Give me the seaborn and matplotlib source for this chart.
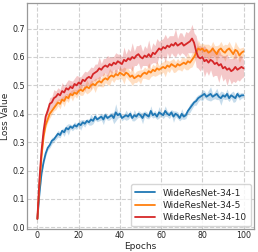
import numpy as np
import pandas as pd
import matplotlib
matplotlib.use("Agg")
import matplotlib.pyplot as plt
import seaborn as sns

# epochs 0..100
epochs = list(range(101))

labels = ["WideResNet-34-1", "WideResNet-34-5", "WideResNet-34-10"]
colors = ["#1f77b4", "#ff7f0e", "#d62728"]

# mean loss per epoch
wrn1 = [0.03, 0.12, 0.19, 0.23, 0.26, 0.28, 0.29, 0.305, 0.31, 0.32,
        0.33, 0.325, 0.34, 0.335, 0.35, 0.345, 0.355, 0.35, 0.36, 0.355,
        0.365, 0.36, 0.37, 0.365, 0.375, 0.37, 0.38, 0.375, 0.39, 0.38,
        0.385, 0.39, 0.38, 0.395, 0.385, 0.39, 0.395, 0.385, 0.405, 0.395,
        0.40, 0.385, 0.39, 0.395, 0.39, 0.40, 0.385, 0.395, 0.39, 0.40,
        0.395, 0.385, 0.40, 0.395, 0.39, 0.41, 0.395, 0.40, 0.39, 0.405,
        0.40, 0.395, 0.41, 0.40, 0.395, 0.405, 0.39, 0.40, 0.395, 0.385,
        0.40, 0.39, 0.395, 0.41, 0.42, 0.43, 0.44, 0.445, 0.455, 0.46,
        0.465, 0.47, 0.46, 0.465, 0.47, 0.46, 0.465, 0.47, 0.46, 0.455,
        0.465, 0.46, 0.47, 0.455, 0.465, 0.46, 0.455, 0.47, 0.46, 0.465,
        0.465]

wrn5 = [0.03, 0.15, 0.25, 0.32, 0.36, 0.38, 0.40, 0.41, 0.42, 0.43,
        0.44, 0.435, 0.45, 0.445, 0.46, 0.455, 0.47, 0.465, 0.475, 0.47,
        0.48, 0.485, 0.48, 0.49, 0.495, 0.49, 0.50, 0.505, 0.50, 0.51,
        0.515, 0.51, 0.52, 0.525, 0.52, 0.53, 0.535, 0.53, 0.54, 0.535,
        0.545, 0.54, 0.535, 0.545, 0.54, 0.53, 0.535, 0.525, 0.53, 0.535,
        0.53, 0.54, 0.545, 0.54, 0.55, 0.545, 0.555, 0.55, 0.56, 0.555,
        0.56, 0.565, 0.56, 0.57, 0.565, 0.575, 0.57, 0.565, 0.575, 0.57,
        0.575, 0.58, 0.575, 0.585, 0.58, 0.59, 0.60, 0.615, 0.63, 0.625,
        0.63, 0.62, 0.625, 0.615, 0.62, 0.63, 0.62, 0.61, 0.625, 0.63,
        0.62, 0.615, 0.625, 0.63, 0.62, 0.61, 0.625, 0.62, 0.605, 0.615,
        0.62]

wrn10 = [0.03, 0.17, 0.27, 0.34, 0.39, 0.41, 0.435, 0.44, 0.455, 0.46,
         0.47, 0.465, 0.48, 0.475, 0.49, 0.485, 0.495, 0.49, 0.505, 0.50,
         0.51, 0.505, 0.52, 0.515, 0.525, 0.53, 0.525, 0.54, 0.545, 0.55,
         0.56, 0.555, 0.565, 0.57, 0.565, 0.575, 0.57, 0.58, 0.575, 0.585,
         0.58, 0.575, 0.59, 0.585, 0.595, 0.59, 0.60, 0.595, 0.605, 0.61,
         0.60, 0.595, 0.605, 0.60, 0.61, 0.60, 0.615, 0.61, 0.62, 0.63,
         0.625, 0.635, 0.63, 0.64, 0.635, 0.645, 0.64, 0.65, 0.64, 0.645,
         0.65, 0.64, 0.645, 0.65, 0.655, 0.665, 0.65, 0.62, 0.60, 0.595,
         0.60, 0.585, 0.59, 0.58, 0.59, 0.585, 0.575, 0.58, 0.57, 0.575,
         0.56, 0.565, 0.555, 0.56, 0.55, 0.555, 0.565, 0.555, 0.56, 0.565,
         0.56]

# half-width of the shaded band around each curve
wrn1_spread = [0.003, 0.01, 0.01, 0.008, 0.01, 0.008, 0.01, 0.012, 0.008, 0.01,
               0.012, 0.01, 0.008, 0.015, 0.01, 0.02, 0.008, 0.01, 0.012, 0.01,
               0.008, 0.018, 0.01, 0.012, 0.008, 0.01, 0.02, 0.01, 0.012, 0.008,
               0.01, 0.012, 0.018, 0.01, 0.008, 0.012, 0.01, 0.02, 0.03, 0.01,
               0.012, 0.01, 0.008, 0.018, 0.01, 0.012, 0.01, 0.02, 0.008, 0.012,
               0.01, 0.02, 0.01, 0.012, 0.008, 0.018, 0.01, 0.012, 0.01, 0.02,
               0.008, 0.012, 0.018, 0.01, 0.012, 0.01, 0.02, 0.01, 0.012, 0.01,
               0.018, 0.01, 0.012, 0.01, 0.015, 0.012, 0.01, 0.015, 0.012, 0.01,
               0.02, 0.012, 0.01, 0.018, 0.025, 0.01, 0.012, 0.02, 0.01, 0.025,
               0.012, 0.01, 0.018, 0.012, 0.01, 0.02, 0.012, 0.01, 0.012, 0.01,
               0.008]

wrn5_spread = [0.003, 0.01, 0.012, 0.01, 0.012, 0.01, 0.015, 0.012, 0.01, 0.015,
               0.012, 0.018, 0.01, 0.02, 0.012, 0.015, 0.01, 0.02, 0.012, 0.015,
               0.012, 0.02, 0.015, 0.012, 0.025, 0.015, 0.018, 0.012, 0.025, 0.015,
               0.018, 0.015, 0.025, 0.015, 0.018, 0.03, 0.015, 0.02, 0.018, 0.015,
               0.02, 0.018, 0.03, 0.015, 0.02, 0.018, 0.035, 0.015, 0.02, 0.018,
               0.025, 0.015, 0.02, 0.018, 0.03, 0.015, 0.02, 0.018, 0.025, 0.015,
               0.02, 0.018, 0.03, 0.018, 0.02, 0.015, 0.025, 0.018, 0.02, 0.015,
               0.025, 0.018, 0.02, 0.03, 0.018, 0.025, 0.02, 0.018, 0.03, 0.02,
               0.018, 0.025, 0.02, 0.03, 0.018, 0.025, 0.02, 0.03, 0.018, 0.025,
               0.02, 0.03, 0.018, 0.025, 0.02, 0.018, 0.03, 0.02, 0.025, 0.018,
               0.015]

wrn10_spread = [0.003, 0.015, 0.02, 0.018, 0.02, 0.018, 0.022, 0.02, 0.03, 0.02,
                0.022, 0.02, 0.03, 0.022, 0.02, 0.035, 0.022, 0.025, 0.02, 0.035,
                0.022, 0.025, 0.02, 0.035, 0.022, 0.025, 0.04, 0.022, 0.03, 0.025,
                0.04, 0.022, 0.03, 0.025, 0.04, 0.025, 0.03, 0.022, 0.04, 0.025,
                0.03, 0.025, 0.045, 0.025, 0.035, 0.03, 0.05, 0.025, 0.035, 0.03,
                0.045, 0.025, 0.035, 0.03, 0.05, 0.025, 0.035, 0.03, 0.045, 0.025,
                0.035, 0.03, 0.05, 0.025, 0.04, 0.03, 0.035, 0.05, 0.025, 0.04,
                0.035, 0.03, 0.045, 0.035, 0.04, 0.05, 0.035, 0.055, 0.04, 0.045,
                0.035, 0.055, 0.04, 0.045, 0.035, 0.055, 0.04, 0.045, 0.06, 0.035,
                0.045, 0.04, 0.055, 0.035, 0.045, 0.04, 0.055, 0.035, 0.045, 0.04,
                0.03]

# three observations per epoch (low, mean, high) so seaborn draws mean + band
frames = []
for name, mean, spread in [(labels[0], wrn1, wrn1_spread),
                           (labels[1], wrn5, wrn5_spread),
                           (labels[2], wrn10, wrn10_spread)]:
    m = np.array(mean)
    s = np.array(spread)
    for vals in (m - s, m, m + s):
        frames.append(pd.DataFrame({"Epochs": epochs, "Loss Value": vals, "model": name}))
df = pd.concat(frames, ignore_index=True)

sns.set_style("whitegrid", {"grid.linestyle": "--", "grid.color": "#d0d0d0",
                            "axes.edgecolor": "#999999"})
plt.rcParams["font.family"] = ["DejaVu Sans"]

fig = plt.figure(figsize=(2.58, 2.52), dpi=100)
ax = fig.add_axes([0.105, 0.091, 0.879, 0.897])

sns.lineplot(data=df, x="Epochs", y="Loss Value", hue="model", hue_order=labels,
             palette=colors, estimator="mean", errorbar=("pi", 100),
             err_kws={"alpha": 0.25, "linewidth": 0}, linewidth=1.3, ax=ax)

ax.set_xlim(-5, 105)
ax.set_ylim(-0.006, 0.79)
ax.set_xticks([0, 20, 40, 60, 80, 100])
ax.set_yticks([0.0, 0.1, 0.2, 0.3, 0.4, 0.5, 0.6, 0.7])
ax.tick_params(labelsize=5.7, pad=1.5, length=0, labelcolor="#222222")
ax.set_xlabel("Epochs", fontsize=6.5, labelpad=1)
ax.set_ylabel("Loss Value", fontsize=6.5, labelpad=2)
for sp in ax.spines.values():
    sp.set_linewidth(0.9)

leg = ax.legend(loc="lower right", fontsize=6.5, frameon=True, handlelength=2.2,
                borderpad=0.5, labelspacing=0.35, borderaxespad=0.3)
leg.get_frame().set_edgecolor("#cccccc")
for line in leg.get_lines():
    line.set_linewidth(1.3)

fig.savefig("out.png", dpi=100)
